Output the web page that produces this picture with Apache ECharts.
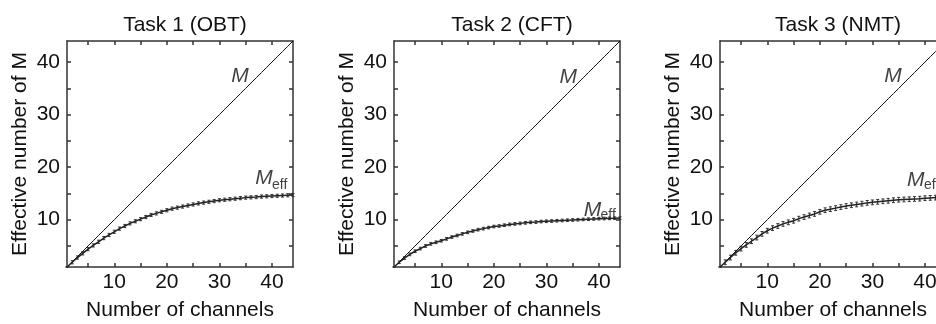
<!DOCTYPE html>
<html><head><meta charset="utf-8">
<script src="https://cdn.jsdelivr.net/npm/echarts@6/dist/echarts.min.js"></script>
<style>html,body{margin:0;padding:0;background:#fff}#c{width:936px;height:324px}</style>
</head><body><div id="c"></div>
<script>
// ---- data ----
const channels = [1,2,3,4,5,6,7,8,9,10,11,12,13,14,15,16,17,18,19,20,21,22,23,24,25,26,27,28,29,30,31,32,33,34,35,36,37,38,39,40,41,42,43,44];
const taskTitles = ['Task 1 (OBT)', 'Task 2 (CFT)', 'Task 3 (NMT)'];
const meffTask1 = [1.0,1.9,2.8,3.6,4.4,5.1,5.8,6.5,7.1,7.7,8.3,8.8,9.3,9.7,10.1,10.5,10.9,11.2,11.5,11.8,12.1,12.3,12.5,12.7,12.9,13.1,13.25,13.4,13.55,13.7,13.8,13.9,14.0,14.1,14.2,14.25,14.3,14.4,14.45,14.5,14.55,14.6,14.65,14.7];
const meffTask2 = [1.0,1.9,2.7,3.4,4.0,4.5,5.0,5.4,5.7,6.0,6.35,6.7,7.0,7.3,7.6,7.85,8.1,8.3,8.5,8.7,8.8,8.95,9.1,9.2,9.3,9.4,9.5,9.55,9.65,9.7,9.75,9.8,9.85,9.9,9.95,10.0,10.05,10.1,10.15,10.2,10.22,10.25,10.28,10.3];
const meffTask3 = [1.0,1.9,2.8,3.7,4.5,5.2,5.9,6.6,7.3,7.9,8.4,8.8,9.2,9.5,9.8,10.2,10.5,10.8,11.1,11.5,11.8,12.0,12.2,12.4,12.6,12.75,12.9,13.05,13.2,13.3,13.4,13.5,13.6,13.7,13.8,13.85,13.9,13.95,14.0,14.1,14.15,14.2,14.25,14.3];
const errTask1 = [0,0.3,0.3,0.3,0.3,0.3,0.3,0.3,0.3,0.3,0.3,0.3,0.3,0.3,0.3,0.3,0.3,0.3,0.3,0.3,0.3,0.3,0.3,0.3,0.3,0.3,0.3,0.3,0.3,0.3,0.3,0.3,0.3,0.3,0.3,0.3,0.3,0.3,0.3,0.3,0.3,0.3,0.3,0.3];
const errTask2 = [0,0.25,0.25,0.25,0.25,0.25,0.25,0.25,0.25,0.25,0.25,0.25,0.25,0.25,0.25,0.25,0.25,0.25,0.25,0.25,0.25,0.25,0.25,0.25,0.25,0.25,0.25,0.25,0.25,0.25,0.25,0.25,0.25,0.25,0.25,0.25,0.25,0.25,0.25,0.25,0.25,0.25,0.25,0.25];
const errTask3 = [0,0.45,0.45,0.45,0.45,0.45,0.45,0.45,0.45,0.45,0.45,0.45,0.45,0.45,0.45,0.45,0.45,0.45,0.45,0.45,0.45,0.45,0.45,0.45,0.45,0.45,0.45,0.45,0.45,0.45,0.45,0.45,0.45,0.45,0.45,0.45,0.45,0.45,0.45,0.45,0.45,0.45,0.45,0.45];
const tickValues = [5,10,15,20,25,30,35,40];
const tickLabels = [10,20,30,40];
const axisMin = 1, axisMax = 44;
const xAxisName = 'Number of channels';
const yAxisName = 'Effective number of M';
// annotation anchors (data coords): [M label], [Meff "M"], [Meff "eff"]
const labelM = [[35.6,35.3],[35.8,35.2],[35.6,35.3]];
const labelMeffM = [[36.8,15.84],[37.1,9.8],[36.6,15.5]];
const labelMeffSub = [[40.0,15.3],[40.3,9.45],[39.8,15.15]];

// ---- chart ----
const meffs = [meffTask1, meffTask2, meffTask3];
const errs = [errTask1, errTask2, errTask3];
const lefts = [67, 394, 720];
const FONT = 'Liberation Sans, Arial, Helvetica, sans-serif';
const INK = '#111';
const grid = [], xAxis = [], yAxis = [], series = [], title = [];
const lineStyleAxis = {color: '#333', width: 1.5};
for (let p = 0; p < 3; p++) {
  grid.push({left: lefts[p], top: 41, width: 226, height: 226, containLabel: false, outerBoundsMode: 'none'});
  title.push({text: taskTitles[p], left: lefts[p] + 113, top: 10, textAlign: 'center',
    textStyle: {fontFamily: FONT, fontSize: 21, fontWeight: 'normal', color: INK}});
  const base = {type: 'value', min: axisMin, max: axisMax, gridIndex: p, splitLine: {show: false},
    axisLine: {show: true, onZero: false, lineStyle: lineStyleAxis},
    axisTick: {show: true, inside: true, length: 4, customValues: tickValues, lineStyle: lineStyleAxis}};
  xAxis.push(Object.assign({}, base, {position: 'bottom', name: xAxisName, nameLocation: 'middle', nameGap: 33,
    nameTextStyle: {fontFamily: FONT, fontSize: 21, color: INK},
    axisLabel: {show: true, customValues: tickLabels, margin: 5, fontFamily: FONT, fontSize: 21, color: INK}}));
  xAxis.push(Object.assign({}, base, {position: 'top', axisLabel: {show: false}}));
  yAxis.push(Object.assign({}, base, {position: 'left', name: yAxisName, nameLocation: 'middle', nameGap: 36,
    nameTextStyle: {fontFamily: FONT, fontSize: 21, color: INK},
    axisLabel: {show: true, customValues: tickLabels, margin: 7, fontFamily: FONT, fontSize: 21, color: INK}}));
  yAxis.push(Object.assign({}, base, {position: 'right', axisLabel: {show: false}}));
  const xi = p * 2, yi = p * 2;
  series.push({type: 'line', xAxisIndex: xi, yAxisIndex: yi, symbol: 'none', silent: true,
    data: channels.map(c => [c, c]), lineStyle: {color: '#111', width: 1}});
  series.push({type: 'line', xAxisIndex: xi, yAxisIndex: yi, symbol: 'none', silent: true,
    data: channels.map((c, i) => [c, meffs[p][i]]), lineStyle: {color: '#222', width: 1.5}});
  series.push({type: 'custom', xAxisIndex: xi, yAxisIndex: yi, silent: true,
    data: channels.map((c, i) => [c, meffs[p][i] - errs[p][i], meffs[p][i] + errs[p][i]]),
    renderItem: function (params, api) {
      const lo = api.coord([api.value(0), api.value(1)]);
      const hi = api.coord([api.value(0), api.value(2)]);
      const w = 1.5;
      const st = {stroke: '#333', lineWidth: 1};
      return {type: 'group', children: [
        {type: 'line', shape: {x1: lo[0], y1: lo[1], x2: hi[0], y2: hi[1]}, style: st},
        {type: 'line', shape: {x1: lo[0] - w, y1: lo[1], x2: lo[0] + w, y2: lo[1]}, style: st},
        {type: 'line', shape: {x1: hi[0] - w, y1: hi[1], x2: hi[0] + w, y2: hi[1]}, style: st}
      ]};
    }});
  const lab = (pt, text, align, size) => ({type: 'scatter', xAxisIndex: xi, yAxisIndex: yi, symbolSize: 0, silent: true,
    data: [pt], label: {show: true, position: [0, 0], align: align, verticalAlign: 'bottom', formatter: text,
      fontFamily: FONT, fontSize: size, fontStyle: size > 15 ? 'italic' : 'normal', color: INK}});
  series.push(lab(labelM[p], 'M', 'right', 21));
  series.push(lab(labelMeffM[p], 'M', 'left', 21));
  series.push(lab(labelMeffSub[p], 'eff', 'left', 14));
}
const chart = echarts.init(document.getElementById('c'), null, {renderer: 'canvas'});
chart.setOption({animation: false, backgroundColor: '#fff', title, grid, xAxis, yAxis, series});
</script></body></html>
